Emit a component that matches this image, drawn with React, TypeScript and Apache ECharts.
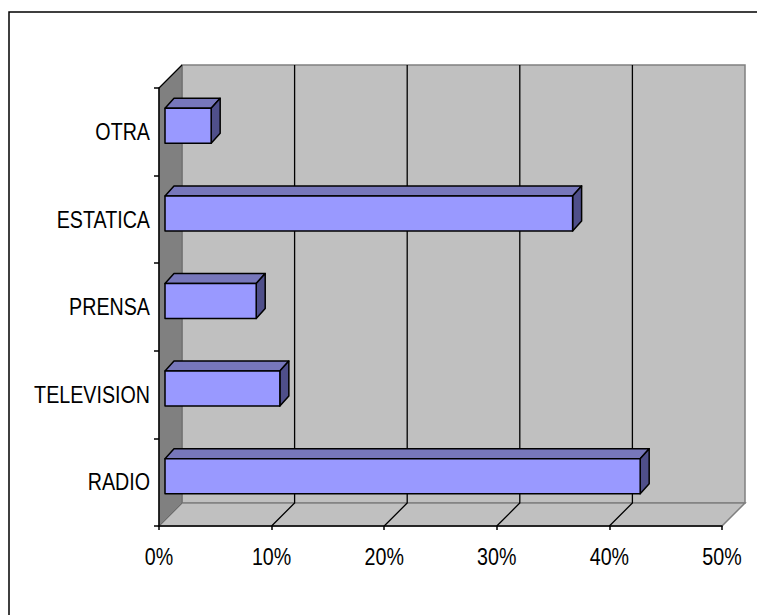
import React, { useEffect, useRef } from "react";
import * as echarts from "echarts";

// Media categories, bottom to top as they appear on the vertical axis
const categories = ["RADIO", "TELEVISION", "PRENSA", "ESTATICA", "OTRA"];
// Share of responses per medium, in percent
const shares = [42.2, 10.2, 8.1, 36.2, 4.1];
// Percent scale ticks along the horizontal axis
const percentTicks = [0, 10, 20, 30, 40, 50];

const FONT_FAMILY = "'Liberation Sans', Arial, sans-serif";
const FONT_SIZE = 24;
const NARROW = 0.82; // horizontal squeeze giving a narrow Arial look

export default function App() {
  const ref = useRef<HTMLDivElement>(null);

  useEffect(() => {
    if (!ref.current) return;
    const chart = echarts.init(ref.current, undefined, { renderer: "svg" });

    const depth = 23; // wall depth of the pseudo-3D box
    const tickMin = percentTicks[0];
    const tickMax = percentTicks[percentTicks.length - 1];
    const tickStep = percentTicks[1] - percentTicks[0];

    const option: any = {
      animation: false,
      backgroundColor: "#ffffff",
      graphic: [
        {
          type: "rect",
          shape: { x: 9, y: 12, width: 800, height: 700 },
          style: { fill: "none", stroke: "#000000", lineWidth: 1.5 },
          z: 0,
        },
      ],
      grid: {
        left: 159,
        top: 88,
        width: 563,
        height: 438,
      },
      xAxis: {
        type: "value",
        min: tickMin,
        max: tickMax,
        interval: tickStep,
        z: 10,
        axisLine: { show: true, lineStyle: { color: "#000000", width: 1.5 } },
        axisTick: { show: true, length: 4, lineStyle: { color: "#000000", width: 1.5 } },
        splitLine: { show: false },
        axisLabel: { show: false },
      },
      yAxis: {
        type: "category",
        data: categories,
        boundaryGap: true,
        z: 10,
        axisLine: { show: true, lineStyle: { color: "#000000", width: 1.5 } },
        axisTick: { show: true, length: 5, lineStyle: { color: "#000000", width: 1.5 } },
        splitLine: { show: false },
        axisLabel: { show: false },
      },
      series: [
        {
          // box walls, floor and back gridlines
          type: "custom",
          clip: false,
          silent: true,
          z: 1,
          data: [[0, 0]],
          renderItem: (params: any, api: any) => {
            const cs = params.coordSys;
            const x0 = cs.x;
            const x1 = cs.x + cs.width;
            const yT = cs.y;
            const yB = cs.y + cs.height;
            const d = depth;
            const children: any[] = [];
            // back wall
            children.push({
              type: "rect",
              shape: { x: x0 + d, y: yT - d, width: cs.width, height: cs.height },
              style: { fill: "#c0c0c0", stroke: "#808080", lineWidth: 1.5 },
            });
            // floor
            children.push({
              type: "polygon",
              shape: {
                points: [
                  [x0, yB],
                  [x1, yB],
                  [x1 + d, yB - d],
                  [x0 + d, yB - d],
                ],
              },
              style: { fill: "#c0c0c0", stroke: "#808080", lineWidth: 1.5 },
            });
            // left wall
            children.push({
              type: "polygon",
              shape: {
                points: [
                  [x0, yT],
                  [x0 + d, yT - d],
                  [x0 + d, yB - d],
                  [x0, yB],
                ],
              },
              style: { fill: "#808080", stroke: "#6a6a6a", lineWidth: 1 },
            });
            children.push({
              type: "line",
              shape: { x1: x0, y1: yT, x2: x0 + d, y2: yT - d },
              style: { stroke: "#000000", lineWidth: 1.2 },
            });
            // gridlines on the floor and back wall
            percentTicks.slice(1, -1).forEach((t) => {
              const x = api.coord([t, 0])[0];
              children.push({
                type: "polyline",
                shape: {
                  points: [
                    [x, yB],
                    [x + d, yB - d],
                    [x + d, yT - d],
                  ],
                },
                style: { fill: "none", stroke: "#000000", lineWidth: 1.3 },
              });
            });
            return { type: "group", children };
          },
        },
        {
          // category names beside the vertical axis
          type: "custom",
          clip: false,
          silent: true,
          z: 5,
          encode: { x: 0, y: 1 },
          data: categories.map((_, i) => [0, i]),
          renderItem: (params: any, api: any) => {
            const p = api.coord([api.value(0), api.value(1)]);
            return {
              type: "text",
              x: p[0] - 9,
              y: p[1],
              scaleX: NARROW,
              style: {
                text: categories[params.dataIndex],
                fill: "#000000",
                font: `${FONT_SIZE}px ${FONT_FAMILY}`,
                textAlign: "right",
                textVerticalAlign: "middle",
              },
            };
          },
        },
        {
          // percent labels under the horizontal axis
          type: "custom",
          clip: false,
          silent: true,
          z: 5,
          encode: { x: 0, y: 1 },
          data: percentTicks.map((t) => [t, 0]),
          renderItem: (params: any, api: any) => {
            const x = api.coord([api.value(0), 0])[0];
            const yB = params.coordSys.y + params.coordSys.height;
            return {
              type: "text",
              x,
              y: yB + 31,
              scaleX: NARROW,
              style: {
                text: `${api.value(0)}%`,
                fill: "#000000",
                font: `${FONT_SIZE}px ${FONT_FAMILY}`,
                textAlign: "center",
                textVerticalAlign: "middle",
              },
            };
          },
        },
        {
          // pseudo-3D bars
          type: "custom",
          clip: false,
          z: 3,
          encode: { x: 0, y: 1 },
          data: shares.map((v, i) => [v, i]),
          renderItem: (params: any, api: any) => {
            const v = api.value(0);
            const idx = api.value(1);
            const p0 = api.coord([0, idx]);
            const p1 = api.coord([v, idx]);
            const band = api.size([0, 1])[1];
            const h = band * 0.4;
            const ox = 6;
            const oy = -6;
            const dx = 9;
            const dy = -10;
            const left = p0[0] + ox;
            const right = p1[0] + ox;
            const top = p0[1] + oy - h / 2;
            const bottom = top + h;
            const edge = { stroke: "#000000", lineWidth: 1.5, lineJoin: "round" };
            return {
              type: "group",
              children: [
                {
                  type: "polygon",
                  shape: {
                    points: [
                      [left, top],
                      [left + dx, top + dy],
                      [right + dx, top + dy],
                      [right, top],
                    ],
                  },
                  style: { fill: "#7777bb", ...edge },
                },
                {
                  type: "polygon",
                  shape: {
                    points: [
                      [right, top],
                      [right + dx, top + dy],
                      [right + dx, bottom + dy],
                      [right, bottom],
                    ],
                  },
                  style: { fill: "#4f4f8a", ...edge },
                },
                {
                  type: "rect",
                  shape: { x: left, y: top, width: right - left, height: h },
                  style: { fill: "#9999ff", ...edge },
                },
              ],
            };
          },
        },
      ],
    };

    chart.setOption(option);
    return () => chart.dispose();
  }, []);

  return (
    <div
      ref={ref}
      style={{ position: "fixed", left: 0, top: 0, width: 757, height: 615 }}
    />
  );
}
